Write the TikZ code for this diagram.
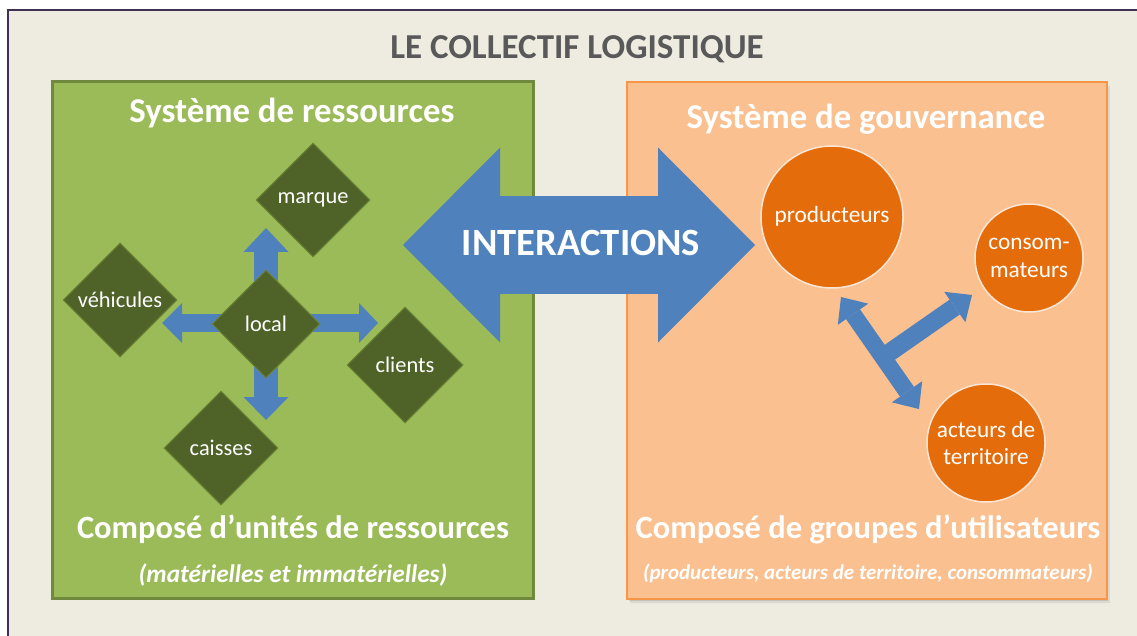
\documentclass[tikz,border=0pt]{standalone}
\usepackage{fontspec}
\setmainfont{Carlito}
\usetikzlibrary{arrows.meta,shapes.geometric}
\definecolor{bgbeige}{HTML}{EEECE1}
\definecolor{framec}{HTML}{403152}
\definecolor{gfill}{HTML}{9BBB59}
\definecolor{gline}{HTML}{71893F}
\definecolor{ofill}{HTML}{FAC090}
\definecolor{oline}{HTML}{F79646}
\definecolor{dgreen}{HTML}{4F6228}
\definecolor{dgedge}{HTML}{6A8436}
\definecolor{blu}{HTML}{4F81BD}
\definecolor{orc}{HTML}{E46C0A}
\definecolor{orcedge}{HTML}{FBE6D6}
\definecolor{titleg}{HTML}{595959}
\tikzset{
  gbox/.style={draw=gline, fill=gfill, line width=3pt, minimum width=481pt, minimum height=516pt, inner sep=0pt},
  obox/.style={draw=oline, fill=ofill, line width=2pt, minimum width=480pt, minimum height=516pt, inner sep=0pt},
  dia/.style={diamond, aspect=1, fill=dgreen, draw=dgedge, line width=1pt, minimum width=114pt, minimum height=114pt, inner sep=0pt, text=white, font=\fontsize{22.4}{26}\selectfont},
  circ/.style={circle, fill=orc, draw=orcedge, line width=1.5pt, inner sep=0pt, text=white, align=center, font=\fontsize{23.3}{27.5}\selectfont},
  hdr/.style={text=white, font=\bfseries\fontsize{34.8}{40}\selectfont, inner sep=0pt},
  sub/.style={text=white, font=\bfseries\fontsize{32.5}{38}\selectfont, inner sep=0pt},
  subit/.style={text=white, font=\bfseries\itshape\fontsize{25.3}{30}\selectfont, inner sep=0pt},
  blk/.style={blu, line width=#1},
}
\begin{document}
\begin{tikzpicture}[x=1pt,y=-1pt]
\useasboundingbox (0,0) rectangle (1137,636);
\fill[white] (0,0) rectangle (1137,636);
\fill[bgbeige] (8,10) rectangle (1137,636);
\draw[framec, line width=1.5pt] (8,636) -- (8,10) -- (1137,10);

\node[text=titleg, font=\bfseries\fontsize{35}{40}\selectfont, inner sep=0pt] (title) at (577,49) {LE COLLECTIF LOGISTIQUE};

% boxes
\node[gbox] (res) at (292.5,340) {};
\fill[black, opacity=0.08] (630,86) rectangle (1110,603);
\fill[black, opacity=0.10] (629,85) rectangle (1108,601);
\node[obox] (gov) at (866.5,340.5) {};

\node[hdr] (reshdr) at (292,113) {Système de ressources};
\node[hdr] (govhdr) at (866,119) {Système de gouvernance};

% cross arrows (green)
\coordinate (hl) at (162,323);
\coordinate (hr) at (378,323);
\coordinate (vt) at (266,228);
\coordinate (vb) at (266,420);
\draw[blk=18pt, {Triangle[length=20pt,width=40pt,line width=0pt]}-{Triangle[length=19pt,width=40pt,line width=0pt]}] (hl) -- (hr);
\draw[blk=24pt, {Triangle[length=24pt,width=45pt,line width=0pt]}-{Triangle[length=23pt,width=45pt,line width=0pt]}] (vt) -- (vb);

% diamonds
\node[dia] (marque) at (313,200) {marque};
\node[dia] (vehic) at (120,300) {véhicules};
\node[dia, minimum width=108pt, minimum height=108pt] (local) at (266,324) {local};
\node[dia, minimum width=116pt, minimum height=116pt] (clients) at (405,365) {clients};
\node[dia] (caisses) at (221,448) {caisses};

% big interactions arrow
\coordinate (iaL) at (403,245);
\coordinate (iaR) at (755,245);
\draw[blk=98pt, {Triangle[length=97pt,width=195pt,line width=0pt]}-{Triangle[length=97pt,width=195pt,line width=0pt]}] (iaL) -- (iaR);
\node[text=white, font=\bfseries\fontsize{38.6}{44}\selectfont, inner sep=0pt] (inter) at (581,243) {INTERACTIONS};

% circles
\node[circ, minimum size=142pt] (prod) at (832,217) {\raisebox{5pt}{producteurs}};
\node[circ, minimum size=108pt] (conso) at (1029,258) {consom-\\mateurs};
\node[circ, minimum size=118pt] (acteurs) at (986,443) {acteurs de\\territoire};

% T arrow (orange)
\coordinate (tp) at (841,297);
\coordinate (ta) at (919,409);
\coordinate (tj) at (883,357);
\coordinate (tc) at (972,295);
\draw[blk=18pt, -{Triangle[length=21pt,width=37pt,line width=0pt]}] (tj) -- (tc);
\draw[blk=17pt, {Triangle[length=21pt,width=37pt,line width=0pt]}-{Triangle[length=21pt,width=37pt,line width=0pt]}] (tp) -- (ta);

% bottom texts
\node[sub] (ressub) at (293,529) {Composé d’unités de ressources};
\node[subit] (resit) at (293,575) {(matérielles et immatérielles)};
\node[sub] (govsub) at (868,529) {Composé de groupes d’utilisateurs};
\node[subit, font=\bfseries\itshape\fontsize{21}{25}\selectfont] (govit) at (868,573) {(producteurs, acteurs de territoire, consommateurs)};
\end{tikzpicture}
\end{document}
